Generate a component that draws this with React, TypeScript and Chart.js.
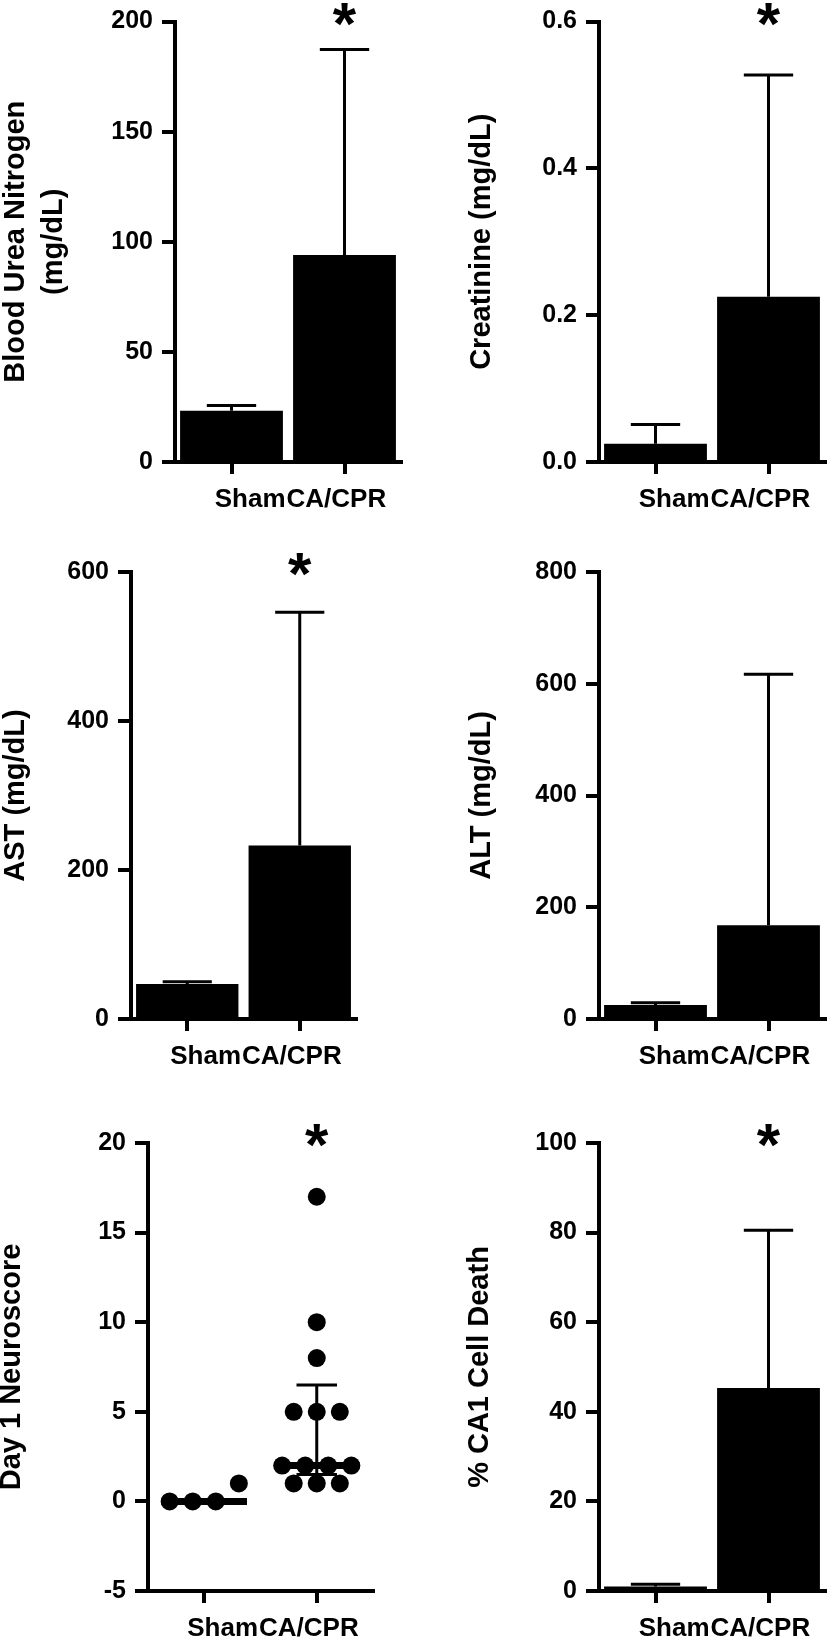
import React, { useEffect, useRef } from 'react';
import { Chart, registerables } from 'chart.js';

Chart.register(...registerables);

const FAMILY = "'Liberation Sans', Arial, Helvetica, sans-serif";
Chart.defaults.font.family = FAMILY;
Chart.defaults.color = '#000';

// ---------- data ----------
const groups = ['Sham', 'CA/CPR'];

const bunTicks = [0, 50, 100, 150, 200];
const bunMean = [23.3, 94];
const bunErr = [25.6, 187.3];

const creatTicks = [0, 0.2, 0.4, 0.6];
const creatMean = [0.025, 0.225];
const creatErr = [0.051, 0.527];

const astTicks = [0, 200, 400, 600];
const astMean = [47, 233];
const astErr = [50, 546];

const altTicks = [0, 200, 400, 600, 800];
const altMean = [25, 168];
const altErr = [29, 617];

const neuroTicks = [-5, 0, 5, 10, 15, 20];
const neuroSham = [0, 0, 0, 1];
const neuroCpr = [1, 1, 1, 2, 2, 2, 2, 5, 5, 5, 8, 10, 17];
const neuroMedian = [0, 2];
const neuroQ1 = [0, 1.5];
const neuroQ3 = [0, 6.5];

const ca1Ticks = [0, 20, 40, 60, 80, 100];
const ca1Mean = [1.0, 45.3];
const ca1Err = [1.5, 80.5];

// ---------- layout ----------
type Panel = {
  id: string;
  kind: 'bar' | 'dots';
  box: { left: number; top: number; width: number; height: number };
  area: { l: number; t: number; r: number; b: number };
  title: string | string[];
  titleLH: number;
  titlePad: number;
  yTicks: number[];
  decimals: number;
  mean?: number[];
  err?: number[];
  star: boolean;
};

const panels: Panel[] = [
  {
    id: 'bun', kind: 'bar',
    box: { left: 0, top: 0, width: 415, height: 525 },
    area: { l: 175, t: 14, r: 401, b: 462 },
    title: ['Blood Urea Nitrogen', '(mg/dL)'], titleLH: 1.31, titlePad: -3,
    yTicks: bunTicks, decimals: 0, mean: bunMean, err: bunErr, star: true,
  },
  {
    id: 'creat', kind: 'bar',
    box: { left: 415, top: 0, width: 414, height: 525 },
    area: { l: 184, t: 14, r: 410, b: 462 },
    title: 'Creatinine (mg/dL)', titleLH: 1.2, titlePad: 50,
    yTicks: creatTicks, decimals: 1, mean: creatMean, err: creatErr, star: true,
  },
  {
    id: 'ast', kind: 'bar',
    box: { left: 0, top: 525, width: 415, height: 555 },
    area: { l: 131, t: 47, r: 356, b: 494 },
    title: 'AST (mg/dL)', titleLH: 1.2, titlePad: -1,
    yTicks: astTicks, decimals: 0, mean: astMean, err: astErr, star: true,
  },
  {
    id: 'alt', kind: 'bar',
    box: { left: 415, top: 525, width: 414, height: 555 },
    area: { l: 184, t: 47, r: 410, b: 494 },
    title: 'ALT (mg/dL)', titleLH: 1.2, titlePad: 50,
    yTicks: altTicks, decimals: 0, mean: altMean, err: altErr, star: false,
  },
  {
    id: 'neuro', kind: 'dots',
    box: { left: 0, top: 1080, width: 415, height: 557 },
    area: { l: 148, t: 63, r: 373, b: 511 },
    title: 'Day 1 Neuroscore', titleLH: 1.2, titlePad: -5,
    yTicks: neuroTicks, decimals: 0, star: true,
  },
  {
    id: 'ca1', kind: 'bar',
    box: { left: 415, top: 1080, width: 414, height: 557 },
    area: { l: 184, t: 63, r: 410, b: 511 },
    title: '% CA1 Cell Death', titleLH: 1.2, titlePad: 48,
    yTicks: ca1Ticks, decimals: 0, mean: ca1Mean, err: ca1Err, star: true,
  },
];

// simple binned swarm: points whose values fall in the same bin are spread side by side
function swarm(values: number[], center: number, step: number, binSize: number) {
  const bins = new Map<number, number[]>();
  values.forEach((v) => {
    const b = Math.floor(v / binSize);
    if (!bins.has(b)) bins.set(b, []);
    bins.get(b)!.push(v);
  });
  const pts: { x: number; y: number }[] = [];
  bins.forEach((vs) => {
    const sorted = [...vs].sort((a, b) => a - b);
    const n = sorted.length;
    sorted.forEach((v, i) => pts.push({ x: center + (i - (n - 1) / 2) * step, y: v }));
  });
  return pts;
}

function buildConfig(p: Panel): any {
  const yScale = {
    type: 'linear',
    min: p.yTicks[0],
    max: p.yTicks[p.yTicks.length - 1],
    afterBuildTicks: (s: any) => {
      s.ticks = p.yTicks.map((v) => ({ value: v }));
    },
    afterFit: (s: any) => {
      s.width = p.area.l;
    },
    border: { display: true, color: '#000', width: 4 },
    grid: { display: true, drawOnChartArea: false, drawTicks: true, tickLength: 13, color: '#000', lineWidth: 4 },
    ticks: {
      color: '#000',
      padding: 9,
      font: { size: 25, weight: 'bold', lineHeight: 1 },
      callback: (v: any) => Number(v).toFixed(p.decimals),
    },
    title: {
      display: true,
      text: p.title,
      color: '#000',
      font: { size: 29, weight: 'bold', lineHeight: p.titleLH },
      padding: { top: p.titlePad, bottom: 0 },
    },
  };

  const xCommon = {
    afterFit: (s: any) => {
      s.height = p.box.height - p.area.b;
    },
    border: { display: true, color: '#000', width: 4 },
    grid: { display: true, offset: false, drawOnChartArea: false, drawTicks: true, tickLength: 12, color: '#000', lineWidth: 4 },
    ticks: { display: false },
  };

  const xScale =
    p.kind === 'bar'
      ? { type: 'category', offset: true, ...xCommon }
      : {
          type: 'linear',
          min: -0.5,
          max: 1.5,
          afterBuildTicks: (s: any) => {
            s.ticks = groups.map((_, i) => ({ value: i }));
          },
          ...xCommon,
        };

  const decor = {
    id: 'decor-' + p.id,
    afterDatasetsDraw(chart: any) {
      const ctx = chart.ctx as CanvasRenderingContext2D;
      const xs = chart.scales.x;
      const ys = chart.scales.y;
      ctx.save();
      ctx.strokeStyle = '#000';
      ctx.lineCap = 'butt';
      if (p.kind === 'bar') {
        const meta = chart.getDatasetMeta(0);
        meta.data.forEach((el: any, i: number) => {
          const x = el.x;
          const yTop = el.y;
          const half = el.width * 0.24;
          const yE = ys.getPixelForValue(p.err![i]);
          ctx.lineWidth = 3;
          ctx.beginPath();
          ctx.moveTo(x, yTop);
          ctx.lineTo(x, yE);
          ctx.moveTo(x - half, yE);
          ctx.lineTo(x + half, yE);
          ctx.stroke();
        });
      } else {
        const unit = xs.getPixelForValue(1) - xs.getPixelForValue(0);
        groups.forEach((_, i) => {
          const cx = xs.getPixelForValue(i);
          const ym = ys.getPixelForValue(neuroMedian[i]);
          if (neuroQ3[i] > neuroQ1[i]) {
            const y1 = ys.getPixelForValue(neuroQ1[i]);
            const y3 = ys.getPixelForValue(neuroQ3[i]);
            const ch = 0.18 * unit;
            ctx.lineWidth = 3;
            ctx.beginPath();
            ctx.moveTo(cx, y1);
            ctx.lineTo(cx, y3);
            ctx.moveTo(cx - ch, y3);
            ctx.lineTo(cx + ch, y3);
            ctx.moveTo(cx - ch, y1);
            ctx.lineTo(cx + ch, y1);
            ctx.stroke();
          }
          ctx.lineWidth = 7;
          ctx.beginPath();
          ctx.moveTo(cx - 0.38 * unit, ym);
          ctx.lineTo(cx + 0.38 * unit, ym);
          ctx.stroke();
        });
      }
      ctx.restore();
    },
    afterDraw(chart: any) {
      const ctx = chart.ctx as CanvasRenderingContext2D;
      const xs = chart.scales.x;
      const x0 = xs.getPixelForValue(0);
      const x1 = xs.getPixelForValue(1);
      const mid = (x0 + x1) / 2 - 2;
      const base = chart.chartArea.bottom + 45;
      ctx.save();
      ctx.fillStyle = '#000';
      ctx.font = `bold 26px ${FAMILY}`;
      ctx.textBaseline = 'alphabetic';
      ctx.textAlign = 'right';
      ctx.fillText(groups[0], mid - 0.5, base);
      ctx.textAlign = 'left';
      ctx.fillText(groups[1], mid + 0.5, base);
      if (p.star) {
        ctx.font = `bold 60px ${FAMILY}`;
        ctx.textAlign = 'center';
        ctx.fillText('*', x1, chart.chartArea.top + 22);
      }
      ctx.restore();
    },
  };

  const data =
    p.kind === 'bar'
      ? {
          labels: groups,
          datasets: [
            {
              data: p.mean,
              backgroundColor: '#000',
              borderWidth: 0,
              barPercentage: 0.91,
              categoryPercentage: 1,
            },
          ],
        }
      : {
          datasets: [
            {
              data: [...swarm(neuroSham, 0, 0.205, 2), ...swarm(neuroCpr, 1, 0.205, 2)],
              backgroundColor: '#000',
              pointBackgroundColor: '#000',
              pointBorderWidth: 0,
              pointRadius: 9,
              showLine: false,
            },
          ],
        };

  return {
    type: p.kind === 'bar' ? 'bar' : 'scatter',
    data,
    options: {
      responsive: false,
      animation: false,
      devicePixelRatio: 1,
      layout: { padding: { left: 0, top: p.area.t, right: p.box.width - p.area.r, bottom: 0 } },
      plugins: { legend: { display: false }, tooltip: { enabled: false }, title: { display: false } },
      scales: { x: xScale, y: yScale },
    },
    plugins: [decor],
  };
}

function PanelChart({ p }: { p: Panel }) {
  const ref = useRef<HTMLCanvasElement>(null);
  useEffect(() => {
    const canvas = ref.current;
    if (!canvas) return;
    const chart = new Chart(canvas, buildConfig(p));
    return () => chart.destroy();
  }, [p]);
  return (
    <canvas
      ref={ref}
      width={p.box.width}
      height={p.box.height}
      style={{
        position: 'absolute',
        left: p.box.left,
        top: p.box.top,
        width: p.box.width,
        height: p.box.height,
      }}
    />
  );
}

export default function App() {
  return (
    <div
      style={{
        position: 'absolute',
        left: 0,
        top: 0,
        width: 829,
        height: 1637,
        background: '#fff',
        overflow: 'hidden',
      }}
    >
      {panels.map((p) => (
        <PanelChart key={p.id} p={p} />
      ))}
    </div>
  );
}
